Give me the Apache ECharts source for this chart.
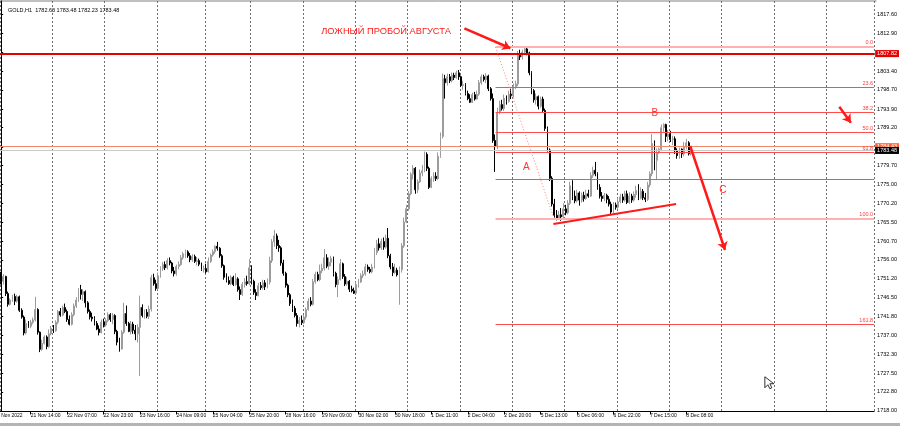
<!DOCTYPE html>
<html>
<head>
<meta charset="utf-8">
<script src="https://cdn.jsdelivr.net/npm/echarts@6/dist/echarts.min.js"></script>
<style>
html, body { margin: 0; padding: 0; background: #fff; }
#main { width: 900px; height: 426px; }
</style>
</head>
<body>
<div id="main"></div>
<script>
// GOLD H1, свечи: [open, close, low, high]
var nov21 = [
    [1752.6,1750.6,1749.8,1753.0],[1750.6,1751.8,1749.8,1752.4],[1751.8,1747.5,1746.9,1752.0],[1747.5,1744.8,1744.2,1748.0],
    [1744.8,1745.9,1744.5,1746.3],[1745.9,1746.8,1745.4,1747.2],[1746.8,1745.6,1744.6,1747.5],[1745.6,1746.7,1745.2,1747.2],
    [1746.7,1743.3,1742.9,1747.0],[1743.3,1741.6,1741.2,1743.8],[1741.6,1737.6,1737.0,1742.0],[1737.6,1740.0,1737.2,1741.0],
    [1740.0,1739.3,1738.9,1740.6],[1739.3,1740.3,1738.8,1740.9],[1740.3,1740.9,1739.8,1741.5],[1740.9,1743.5,1740.5,1746.7],
    [1743.5,1737.8,1737.2,1743.8],[1737.8,1733.5,1732.8,1738.0],[1733.5,1735.0,1733.1,1735.9],[1735.0,1736.6,1734.7,1737.0],
    [1736.6,1734.2,1733.5,1737.0],[1734.2,1737.4,1733.9,1738.5],[1737.4,1738.8,1737.0,1739.4]
];
var nov22 = [
    [1738.8,1738.2,1737.6,1739.6],[1738.2,1740.3,1737.9,1740.8],[1740.3,1743.0,1739.8,1743.4],[1743.0,1742.1,1741.7,1743.9],
    [1742.1,1744.0,1741.8,1744.5],[1744.0,1743.0,1742.6,1745.0],[1743.0,1741.0,1740.4,1743.5],[1741.0,1739.8,1739.5,1742.0],
    [1739.8,1742.2,1739.5,1742.8],[1742.2,1744.4,1741.8,1745.0],[1744.4,1745.9,1743.9,1746.6],[1745.9,1748.5,1745.4,1748.9],
    [1748.5,1747.3,1746.0,1749.7],[1747.3,1748.0,1745.6,1748.6],[1748.0,1745.2,1744.0,1748.3],[1745.2,1743.0,1742.5,1745.6],
    [1743.0,1741.6,1741.0,1743.5],[1741.6,1741.2,1740.5,1742.7],[1741.2,1740.0,1739.5,1741.8],[1740.0,1738.6,1738.3,1740.6],
    [1738.6,1737.7,1737.0,1739.5],[1737.7,1740.3,1737.5,1741.0],[1740.3,1739.6,1739.0,1741.2]
];
var nov23 = [
    [1739.6,1740.7,1739.2,1741.3],[1740.7,1742.2,1740.3,1742.8],[1742.2,1741.0,1740.4,1742.6],[1741.0,1742.0,1739.8,1742.6],
    [1742.0,1738.0,1737.3,1742.3],[1738.0,1735.3,1734.5,1738.4],[1735.3,1733.6,1732.9,1736.4],[1733.6,1737.8,1733.4,1738.3],
    [1737.8,1742.5,1737.4,1745.2],[1742.5,1740.0,1739.4,1744.5],[1740.0,1738.0,1737.8,1740.4],[1738.0,1739.8,1737.2,1740.6],
    [1739.8,1738.3,1737.4,1740.4],[1738.3,1737.4,1735.8,1739.6],[1737.4,1739.0,1735.2,1739.8],[1739.0,1744.0,1726.8,1747.0],
    [1744.0,1742.0,1741.5,1744.8],[1742.0,1742.8,1741.2,1743.5],[1742.8,1741.8,1741.3,1743.6],[1741.8,1743.6,1741.1,1744.5],
    [1743.6,1751.5,1743.0,1752.2],[1751.5,1750.0,1749.5,1752.5],[1750.0,1748.8,1748.2,1751.0]
];
var nov24 = [
    [1748.8,1752.0,1748.5,1752.8],[1752.0,1753.8,1751.5,1754.4],[1753.8,1754.8,1753.2,1755.4],[1754.8,1754.0,1753.4,1755.6],
    [1754.0,1755.8,1753.6,1756.4],[1755.8,1755.2,1754.6,1756.6],[1755.2,1753.2,1752.6,1755.5],[1753.2,1752.5,1751.8,1754.2],
    [1752.5,1754.3,1752.0,1754.8],[1754.3,1754.8,1753.6,1755.6],[1754.8,1756.5,1754.5,1757.2],[1756.5,1757.5,1756.0,1758.0],
    [1757.5,1758.0,1756.4,1758.6],[1758.0,1757.0,1756.5,1758.4],[1757.0,1756.0,1755.4,1757.7],[1756.0,1756.8,1755.5,1757.4],
    [1756.8,1755.6,1755.2,1757.3],[1755.6,1755.8,1754.6,1756.7],[1755.8,1754.9,1754.4,1756.3],[1754.9,1753.6,1753.2,1755.3],
    [1753.6,1753.8,1752.8,1754.6]
];
var nov25 = [
    [1753.8,1753.0,1752.6,1755.0],[1753.0,1755.6,1752.8,1756.6],[1755.6,1757.2,1755.2,1757.6],[1757.2,1758.0,1756.8,1758.6],
    [1758.0,1759.4,1757.5,1759.6],[1759.4,1758.9,1758.3,1760.5],[1758.9,1757.0,1756.5,1759.2],[1757.0,1754.5,1754.0,1757.4],
    [1754.5,1751.6,1751.0,1754.8],[1751.6,1750.8,1750.3,1752.6],[1750.8,1750.0,1749.7,1751.8],[1750.0,1751.6,1749.6,1752.1],
    [1751.6,1749.8,1749.4,1752.0],[1749.8,1751.2,1749.5,1752.6],[1751.2,1748.5,1748.0,1751.6],[1748.5,1747.3,1745.9,1749.3],
    [1747.3,1749.8,1746.9,1750.4],[1749.8,1750.5,1749.0,1751.4],[1750.5,1750.0,1749.5,1752.0],[1750.0,1754.0,1749.6,1756.2]
];
var nov28 = [
    [1754.0,1750.6,1749.8,1754.6],[1750.6,1747.8,1747.2,1751.0],[1747.8,1747.0,1745.9,1748.6],[1747.0,1749.5,1746.8,1750.2],
    [1749.5,1749.0,1748.4,1750.4],[1749.0,1750.2,1748.5,1751.0],[1750.2,1749.2,1748.4,1750.9],[1749.2,1750.4,1748.8,1751.3],
    [1750.4,1755.8,1749.8,1756.8],[1755.8,1760.5,1755.2,1761.2],[1760.5,1762.0,1759.3,1763.5],[1762.0,1759.6,1758.7,1762.6],
    [1759.6,1759.0,1758.0,1761.0],[1759.0,1755.2,1754.5,1759.4],[1755.2,1752.6,1752.0,1756.0],[1752.6,1749.6,1749.0,1753.0],
    [1749.6,1747.2,1746.6,1750.0],[1747.2,1745.0,1744.4,1747.6],[1745.0,1743.8,1742.9,1746.0],[1743.8,1742.0,1741.5,1744.4],
    [1742.0,1740.0,1739.2,1742.6],[1740.0,1740.8,1739.0,1741.6],[1740.8,1740.2,1739.6,1742.0]
];
var nov29 = [
    [1740.2,1741.6,1739.8,1742.2],[1741.6,1743.5,1741.0,1744.0],[1743.5,1745.6,1743.2,1746.3],[1745.6,1744.8,1744.3,1746.6],
    [1744.8,1750.5,1744.5,1751.2],[1750.5,1752.3,1750.0,1753.0],[1752.3,1751.0,1750.6,1753.0],[1751.0,1753.2,1750.6,1754.8],
    [1753.2,1753.8,1752.6,1755.0],[1753.8,1756.5,1753.3,1758.7],[1756.5,1754.4,1753.9,1757.4],[1754.4,1755.4,1753.5,1756.6],
    [1755.4,1756.3,1754.4,1757.0],[1756.3,1752.6,1751.8,1756.8],[1752.6,1749.8,1749.1,1753.0],[1749.8,1751.0,1746.6,1751.8],
    [1751.0,1755.0,1750.8,1756.2],[1755.0,1751.8,1751.2,1755.3],[1751.8,1749.9,1749.4,1752.4],[1749.9,1750.6,1749.5,1751.7],
    [1750.6,1748.6,1747.9,1750.9],[1748.6,1748.2,1747.8,1749.5],[1748.2,1747.6,1747.4,1749.0]
];
var nov30 = [
    [1747.6,1749.8,1747.3,1750.4],[1749.8,1750.4,1749.0,1751.2],[1750.4,1752.0,1750.2,1752.6],[1752.0,1752.4,1751.4,1753.3],
    [1752.4,1754.2,1752.0,1755.0],[1754.2,1753.6,1753.0,1754.8],[1753.6,1753.0,1752.6,1754.2],[1753.0,1754.2,1752.6,1755.0],
    [1754.2,1757.8,1753.8,1759.0],[1757.8,1760.0,1757.2,1761.0],[1760.0,1759.0,1758.3,1761.4],[1759.0,1760.6,1758.5,1761.3],
    [1760.6,1759.2,1758.5,1761.6],[1759.2,1761.4,1758.8,1762.3],[1761.4,1757.0,1756.4,1764.0],[1757.0,1754.2,1753.6,1757.5],
    [1754.2,1752.8,1751.9,1755.2],[1752.8,1753.4,1752.4,1755.0],[1753.4,1752.2,1751.8,1754.0],[1752.2,1753.5,1744.7,1754.3],
    [1753.5,1759.5,1752.8,1760.2],[1759.5,1765.5,1759.0,1766.6],[1765.5,1768.8,1765.2,1769.8]
];
var dec1 = [
    [1768.8,1772.6,1768.3,1773.3],[1772.6,1777.5,1772.2,1778.0],[1777.5,1779.0,1776.2,1779.8],[1779.0,1773.6,1772.6,1779.3],
    [1773.6,1775.6,1772.8,1776.2],[1775.6,1777.8,1775.3,1778.7],[1777.8,1778.4,1777.0,1779.8],[1778.4,1782.5,1778.0,1783.2],
    [1782.5,1779.0,1778.3,1783.0],[1779.0,1774.2,1773.8,1779.4],[1774.2,1776.4,1774.0,1777.0],[1776.4,1777.0,1775.6,1778.0],
    [1777.0,1776.4,1775.8,1778.0],[1776.4,1782.0,1776.0,1783.0],[1782.0,1787.0,1781.6,1788.0],[1787.0,1801.5,1786.5,1802.8],
    [1801.5,1800.5,1796.5,1802.5],[1800.5,1802.0,1799.8,1802.8],[1802.0,1801.0,1800.4,1802.7],[1801.0,1802.4,1800.6,1803.0],
    [1802.4,1801.8,1801.2,1803.0],[1801.8,1803.0,1801.5,1803.5],[1803.0,1802.0,1801.2,1803.7]
];
var dec2 = [
    [1802.0,1799.8,1799.4,1802.3],[1799.8,1800.0,1798.7,1801.0],[1800.0,1797.8,1797.3,1800.4],[1797.8,1796.5,1796.1,1798.5],
    [1796.5,1795.6,1795.4,1797.6],[1795.6,1797.5,1795.4,1798.0],[1797.5,1796.4,1796.0,1798.2],[1796.4,1797.6,1796.3,1798.5],
    [1797.6,1800.5,1797.2,1801.2],[1800.5,1802.0,1800.0,1802.6],[1802.0,1801.3,1800.8,1802.5],[1801.3,1802.2,1800.4,1802.9],
    [1802.2,1799.0,1798.4,1802.5],[1799.0,1796.5,1796.0,1799.4],[1796.5,1786.0,1785.4,1797.8],[1786.0,1784.5,1778.1,1787.5],
    [1784.5,1793.0,1783.8,1794.2],[1793.0,1795.0,1792.6,1796.0],[1795.0,1794.0,1793.5,1796.2],[1794.0,1796.6,1793.4,1797.5],
    [1796.6,1795.8,1795.0,1797.3],[1795.8,1797.6,1795.5,1798.5],[1797.6,1797.2,1796.4,1799.0]
];
var dec5 = [
    [1797.2,1799.5,1796.8,1800.3],[1799.5,1800.2,1798.9,1801.0],[1800.2,1807.5,1799.6,1808.5],[1807.5,1807.0,1806.2,1808.8],
    [1807.0,1808.2,1806.3,1808.8],[1808.2,1809.0,1807.6,1809.6],[1809.0,1808.0,1807.4,1809.6],[1808.0,1803.0,1802.4,1808.3],
    [1803.0,1798.5,1797.6,1803.4],[1798.5,1796.2,1795.5,1798.9],[1796.2,1797.0,1795.0,1797.8],[1797.0,1794.6,1793.8,1797.3],
    [1794.6,1796.4,1794.2,1797.0],[1796.4,1793.5,1793.0,1797.0],[1793.5,1789.0,1788.4,1794.0],[1789.0,1783.6,1783.2,1789.5],
    [1783.6,1776.5,1775.8,1784.0],[1776.5,1770.0,1769.4,1777.0],[1770.0,1767.2,1766.6,1771.3],[1767.2,1766.5,1765.9,1768.5],
    [1766.5,1767.3,1766.0,1768.3],[1767.3,1766.8,1765.8,1769.0],[1766.8,1768.8,1766.4,1770.2]
];
var dec6 = [
    [1768.8,1767.8,1767.2,1769.8],[1767.8,1770.2,1767.4,1771.0],[1770.2,1774.6,1769.8,1775.6],[1774.6,1772.0,1771.0,1776.0],
    [1772.0,1770.8,1770.2,1773.4],[1770.8,1772.8,1770.4,1773.6],[1772.8,1771.0,1769.6,1773.2],[1771.0,1772.2,1770.4,1772.9],
    [1772.2,1771.4,1770.6,1773.1],[1771.4,1772.6,1771.0,1773.6],[1772.6,1772.0,1771.6,1773.6],[1772.0,1777.2,1771.8,1778.0],
    [1777.2,1778.5,1776.6,1779.4],[1778.5,1777.6,1777.0,1780.6],[1777.6,1774.2,1773.6,1778.0],[1774.2,1772.0,1771.4,1775.0],
    [1772.0,1771.4,1770.6,1773.0],[1771.4,1772.2,1770.8,1772.8],[1772.2,1771.2,1770.2,1772.6],[1771.2,1770.0,1769.4,1772.0],
    [1770.0,1768.0,1767.2,1770.6],[1768.0,1769.8,1767.6,1770.5],[1769.8,1769.2,1768.6,1770.4]
];
var dec7 = [
    [1769.2,1770.6,1768.8,1771.5],[1770.6,1771.8,1770.2,1772.6],[1771.8,1771.0,1770.3,1772.6],[1771.0,1772.6,1770.6,1773.3],
    [1772.6,1770.4,1770.0,1773.4],[1770.4,1772.0,1770.0,1773.0],[1772.0,1771.0,1770.3,1772.6],[1771.0,1772.4,1770.6,1773.2],
    [1772.4,1773.4,1771.6,1774.6],[1773.4,1771.5,1771.0,1775.0],[1771.5,1773.2,1771.2,1774.2],[1773.2,1771.6,1771.0,1773.8],
    [1771.6,1771.2,1770.5,1772.8],[1771.2,1774.8,1770.8,1775.6],[1774.8,1777.6,1774.2,1778.2],[1777.6,1785.2,1777.0,1787.6],
    [1785.2,1781.0,1778.5,1786.0],[1781.0,1783.0,1776.0,1784.0],[1783.0,1783.8,1782.6,1784.2],[1783.8,1789.2,1783.3,1790.0],
    [1789.2,1790.0,1788.2,1790.3],[1790.0,1787.0,1785.6,1790.2],[1787.0,1787.6,1785.8,1788.6]
];
var dec8 = [
    [1787.6,1786.2,1785.6,1788.4],[1786.2,1786.4,1784.8,1787.2],[1786.4,1783.4,1782.6,1787.0],[1783.4,1782.2,1781.4,1784.0],
    [1782.2,1783.8,1781.4,1784.2],[1783.8,1782.6,1781.6,1784.0],[1782.6,1784.4,1782.0,1785.6],[1784.4,1785.4,1783.8,1786.4],
    [1785.4,1782.6,1782.2,1785.8],[1782.63,1783.48,1782.23,1783.48]
];

// торговые сессии: день, первый и последний час
var sessions = [
    ['21 Nov',1,23],['22 Nov',1,23],['23 Nov',1,23],['24 Nov',1,21],['25 Nov',1,20],
    ['28 Nov',1,23],['29 Nov',1,23],['30 Nov',1,23],['1 Dec',1,23],['2 Dec',1,23],
    ['5 Dec',1,23],['6 Dec',1,23],['7 Dec',1,23],['8 Dec',1,23],['9 Dec',1,23],
    ['12 Dec',1,23],['13 Dec',1,23]
];
var firstLabel = '18 Nov 2022';   // подпись бара левее края окна
var totalBars = 384;
var labelStep = 16, labelShift = 3;

var priceTicks = [1718.00,1722.80,1727.50,1732.30,1737.00,1741.80,1746.50,1751.20,1756.00,1760.70,1765.50,
    1770.20,1775.00,1779.70,1784.40,1789.20,1793.90,1798.70,1803.40,1808.20,1812.90,1817.60];

// уровни
var resistance = 1807.82;
var askPrice = 1784.43;
var bidPrice = 1783.48;
var fibLevels = ['0.0', '23.6', '38.2', '50.0', '61.8', '100.0', '161.8'];
var fibPrices = [1809.56, 1799.38, 1793.08, 1788.00, 1782.91, 1766.43, 1739.78];
var fibStart = 217.2;
var extraLevel = 1776.2;

// разметка (индекс бара, цена)
var arrows = [
    [[203.5, 1814.18], [223.7, 1809.16]],
    [[368.2, 1794.48], [373.3, 1790.46]],
    [[302.7, 1784.6], [318.0, 1758.46]]
];
var supportLine = [[242.6, 1765.0], [296.5, 1770.03]];
var fibDiagonal = [[217.2, 1809.48], [242.6, 1766.76]];
var waveMarks = [['A', 230.7, 1779.15], ['B', 287.2, 1792.82], ['C', 317.1, 1773.54]];
var noteText = 'ЛОЖНЫЙ ПРОБОЙ АВГУСТА';
var notePos = [140.6, 1813.38];
var cursorAt = [335.5, 1726.6];

var candles = [].concat(nov21, nov22, nov23, nov24, nov25, nov28, nov29, nov30, dec1, dec2, dec5, dec6, dec7, dec8);

var categories = [];
sessions.forEach(function (s) {
    for (var h = s[1]; h <= s[2]; h++) {
        categories.push(s[0] + ' ' + (h < 10 ? '0' + h : h) + ':00');
    }
});
categories = categories.slice(0, totalBars);

var lastBar = candles.length;
var font = 'Liberation Sans';
function showTick(i) { return (i + labelShift) % labelStep === 0 && i < lastBar; }

var lines = fibPrices.map(function (p, k) {
    var edge = (k === 0 || k === 5);
    return [
        {
            coord: [fibStart, p],
            lineStyle: { color: edge ? '#ffb0b0' : '#ff4d4d', width: edge ? 2 : 1, type: 'solid', opacity: 1 },
            label: { show: true, position: 'insideEndTop', formatter: fibLevels[k], color: '#ff3b3b', fontSize: 5.5, fontFamily: font, distance: 1 }
        },
        { coord: [totalBars - 0.5, p] }
    ];
});
lines.push([
    { coord: [fibStart, extraLevel], lineStyle: { color: '#ff4d4d', width: 1, type: 'solid', opacity: 1 } },
    { coord: [totalBars - 0.5, extraLevel] }
]);
lines.push([
    { coord: fibDiagonal[0], lineStyle: { color: '#ff8080', width: 1, type: [1, 2] } },
    { coord: fibDiagonal[1] }
]);
lines.push([
    { coord: supportLine[0], lineStyle: { color: '#ff1a1a', width: 2, type: 'solid' } },
    { coord: supportLine[1] }
]);
arrows.forEach(function (a) {
    lines.push([
        { coord: a[0], symbol: 'none', lineStyle: { color: '#ff1a1a', width: 2.5, type: 'solid' } },
        { coord: a[1], symbol: 'arrow', symbolSize: 8 }
    ]);
});

var textPoints = waveMarks.map(function (w) {
    return {
        coord: [w[1], w[2]], symbolSize: 0,
        label: { show: true, position: 'inside', formatter: w[0], color: '#ff3333', fontSize: 10, fontFamily: font }
    };
});
textPoints.push({
    coord: notePos, symbolSize: 0,
    label: { show: true, position: 'right', distance: 0, formatter: noteText, color: '#ff1a1a', fontSize: 9.3, fontFamily: font }
});
// курсор мыши на скриншоте
textPoints.push({
    coord: cursorAt,
    symbol: 'path://M0,0 L0,11 L3,8 L5,12 L7,11 L5,7 L9,7 Z',
    symbolSize: [9, 12],
    symbolOffset: [4.5, 6],
    itemStyle: { color: '#fff', borderColor: '#000', borderWidth: 0.8 },
    label: { show: false }
});

var myChart = echarts.init(document.getElementById('main'));
var option = {
    animation: false,
    backgroundColor: '#fff',
    title: {
        text: 'GOLD,H1  1782.63 1783.48 1782.23 1783.48',
        left: 3, top: 2,
        textStyle: { fontSize: 5.5, fontWeight: 'normal', color: '#000', fontFamily: font }
    },
    grid: { left: 0, right: 23.5, top: 1, bottom: 14.5 },
    xAxis: [{
        type: 'category',
        data: categories,
        boundaryGap: true,
        axisLine: { lineStyle: { color: '#000' } },
        axisTick: { show: true, length: 3, alignWithLabel: true, interval: showTick, lineStyle: { color: '#000' } },
        axisLabel: { interval: showTick, align: 'left', margin: 2, fontSize: 5, color: '#000', fontFamily: font },
        splitLine: {
            show: true,
            interval: function (i, v) { return / 01:00$/.test(v); },
            lineStyle: { color: '#6e6e6e', type: [2, 2], width: 1 }
        }
    }, {
        type: 'value', min: -0.5, max: totalBars - 0.5, show: false
    }],
    yAxis: {
        type: 'value',
        position: 'right',
        min: 1717.87,
        max: 1821.04,
        axisLine: { show: true, lineStyle: { color: '#000' } },
        axisTick: { show: true, length: 2, customValues: priceTicks, lineStyle: { color: '#000' } },
        axisLabel: {
            customValues: priceTicks, margin: 3, fontSize: 5.5, color: '#000', fontFamily: font,
            formatter: function (v) { return v.toFixed(2); }
        },
        splitLine: { show: false }
    },
    series: [{
        type: 'candlestick',
        data: candles,
        barWidth: 1.4,
        itemStyle: {
            color: '#9c9c9c', color0: '#000',
            borderColor: '#9c9c9c', borderColor0: '#000', borderWidth: 1
        },
        markLine: {
            silent: true,
            symbol: 'none',
            data: [
                {
                    yAxis: askPrice, lineStyle: { color: '#f08a6a', width: 1, type: 'solid' },
                    label: { show: true, position: 'end', distance: 1, formatter: askPrice.toFixed(2), color: '#fff', backgroundColor: '#ff6633', fontSize: 5.5, fontFamily: font, padding: [1, 2, 0, 2] }
                },
                {
                    yAxis: bidPrice, lineStyle: { color: '#c8c8c8', width: 1, type: 'solid' },
                    label: { show: true, position: 'end', distance: 1, formatter: bidPrice.toFixed(2), color: '#fff', backgroundColor: '#000', fontSize: 5.5, fontFamily: font, padding: [1, 2, 0, 2] }
                },
                {
                    yAxis: resistance, lineStyle: { color: '#e60000', width: 2, type: 'solid' },
                    label: { show: true, position: 'end', distance: 1, formatter: resistance.toFixed(2), color: '#fff', backgroundColor: '#e60000', fontSize: 5.5, fontFamily: font, padding: [1, 2, 0, 2] }
                }
            ]
        }
    }, {
        type: 'line',
        xAxisIndex: 1,
        data: [],
        markLine: { silent: true, symbol: 'none', label: { show: false }, data: lines },
        markPoint: { silent: true, symbolSize: 0, data: textPoints }
    }],
    graphic: [
        { type: 'line', shape: { x1: 0, y1: 1, x2: 876.5, y2: 1 }, style: { stroke: '#808080', lineWidth: 1 } },
        { type: 'text', x: -5.7, y: 413.5, style: { text: firstLabel, fontSize: 5, fontFamily: font, fill: '#000' } },
        { type: 'rect', shape: { x: 0, y: 423, width: 900, height: 3 }, style: { fill: '#b4b4b4' } }
    ]
};
myChart.setOption(option);
</script>
</body>
</html>
